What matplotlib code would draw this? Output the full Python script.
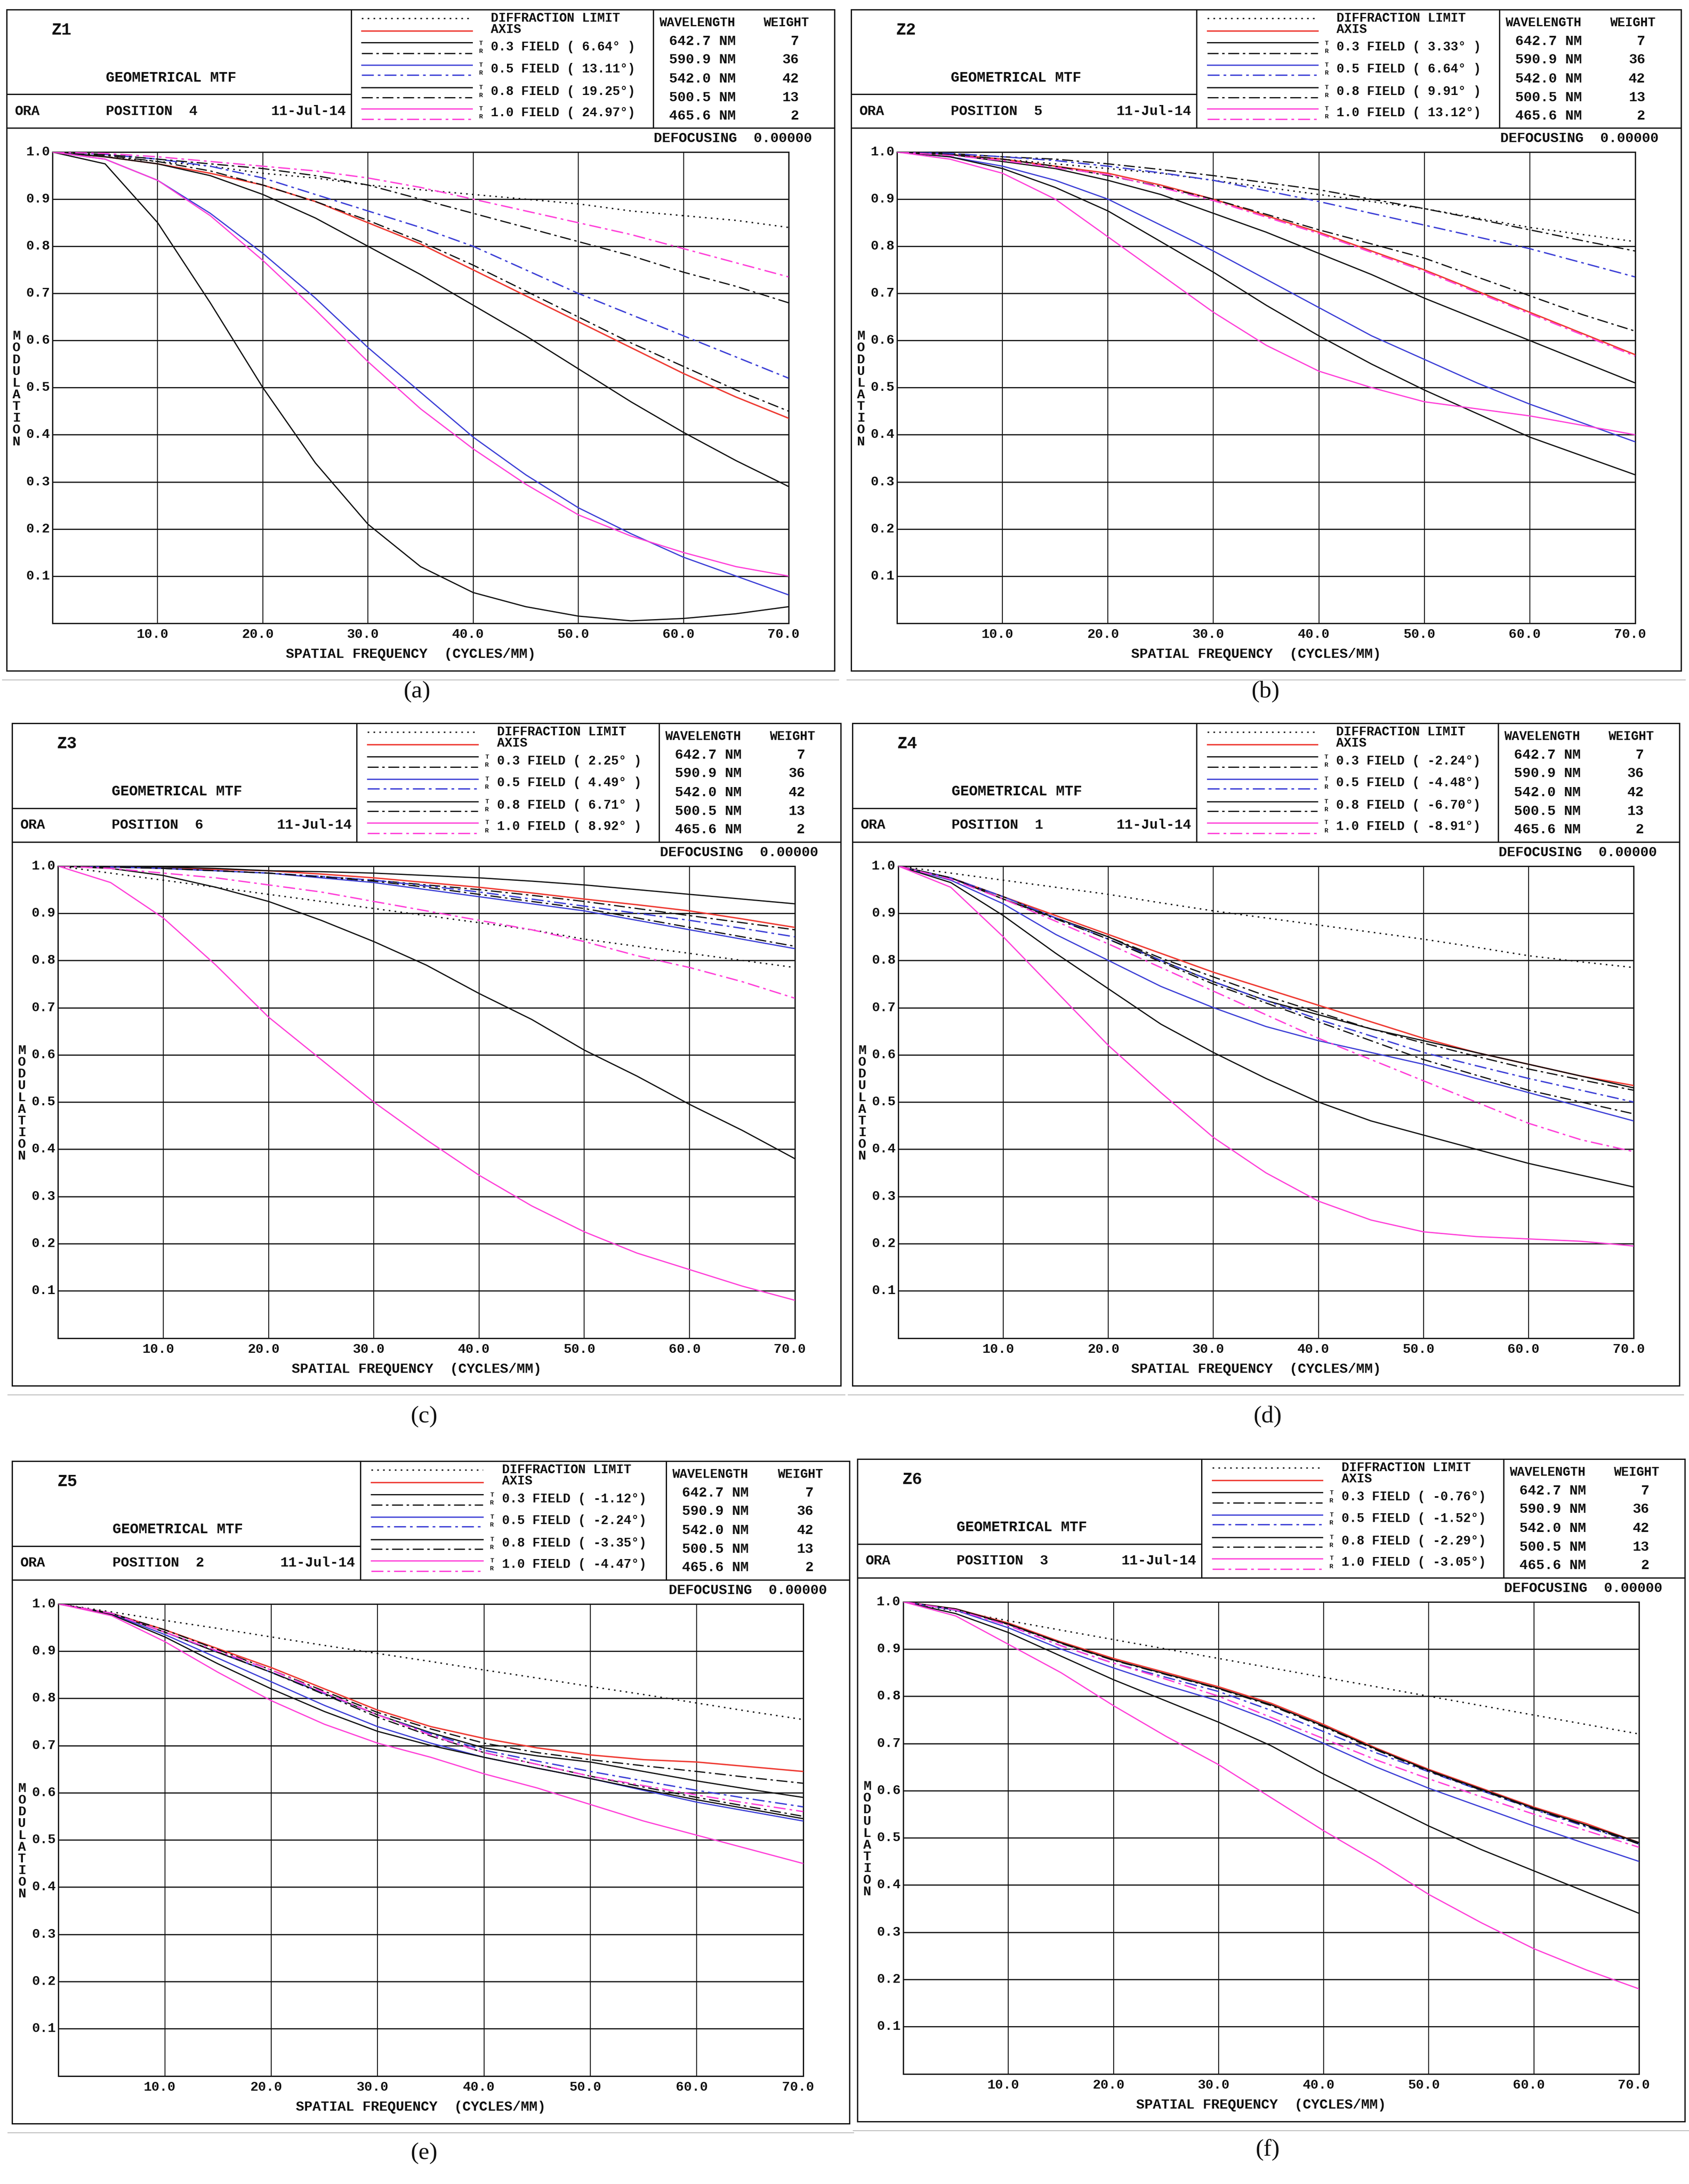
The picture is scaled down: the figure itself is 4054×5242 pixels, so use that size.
import matplotlib
matplotlib.use("Agg")
import matplotlib.pyplot as plt
from matplotlib.patches import Rectangle

W, H = 4055, 5242
FREQ = [0, 5, 10, 15, 20, 25, 30, 35, 40, 45, 50, 55, 60, 65, 70]
WAVELENGTHS = ["642.7 NM", "590.9 NM", "542.0 NM", "500.5 NM", "465.6 NM"]
WEIGHTS = ["7", "36", "42", "13", "2"]
FIELDS = ["0.3", "0.5", "0.8", "1.0"]
NAMES = ["Z1", "Z2", "Z3", "Z4", "Z5", "Z6"]
POSITIONS = ["4", "5", "6", "1", "2", "3"]
CAPTIONS = ["(a)", "(b)", "(c)", "(d)", "(e)", "(f)"]
ANGLES = [["6.64", "13.11", "19.25", "24.97"],
          ["3.33", "6.64", "9.91", "13.12"],
          ["2.25", "4.49", "6.71", "8.92"],
          ["-2.24", "-4.48", "-6.70", "-8.91"],
          ["-1.12", "-2.24", "-3.35", "-4.47"],
          ["-0.76", "-1.52", "-2.29", "-3.05"]]

# series order: diff, axis, T0.3, R0.3, T0.5, R0.5, T0.8, R0.8, T1.0, R1.0
A_DIFF = [1, .99, .98, .97, .955, .945, .93, .92, .91, .90, .89, .875, .865, .855, .84]
A_AXIS = [1, .99, .975, .955, .93, .895, .85, .805, .75, .695, .64, .585, .53, .48, .435]
A_T03 = [1, .99, .975, .95, .91, .86, .80, .74, .675, .61, .54, .47, .405, .345, .29]
A_R03 = [1, .993, .98, .96, .93, .895, .855, .81, .76, .705, .65, .595, .545, .495, .45]
A_T05 = [1, .985, .94, .87, .785, .69, .585, .49, .395, .315, .245, .19, .14, .10, .06]
A_R05 = [1, .995, .985, .97, .945, .91, .875, .84, .80, .75, .70, .655, .61, .565, .52]
A_T08 = [1, .975, .85, .68, .50, .34, .21, .12, .065, .035, .015, .005, .01, .02, .035]
A_R08 = [1, .995, .985, .975, .965, .95, .93, .90, .87, .84, .81, .78, .745, .715, .68]
A_T10 = [1, .985, .94, .865, .77, .665, .555, .455, .37, .295, .23, .185, .15, .12, .10]
A_R10 = [1, .997, .99, .98, .97, .96, .945, .925, .90, .875, .85, .825, .795, .765, .735]

B_DIFF = [1, .995, .985, .975, .965, .955, .94, .925, .91, .895, .88, .86, .84, .825, .81]
B_AXIS = [1, .995, .985, .97, .955, .93, .90, .865, .83, .79, .75, .705, .66, .615, .57]
B_T03 = [1, .995, .98, .965, .94, .91, .87, .83, .785, .74, .69, .645, .60, .555, .51]
B_R03 = [1, .997, .99, .985, .975, .963, .95, .935, .92, .90, .88, .858, .835, .812, .79]
B_T05 = [1, .99, .97, .94, .90, .845, .79, .73, .67, .61, .56, .51, .465, .425, .385]
B_R05 = [1, .997, .99, .982, .97, .956, .94, .918, .895, .87, .845, .82, .795, .765, .735]
B_T08 = [1, .99, .965, .925, .875, .81, .745, .675, .61, .55, .495, .445, .395, .355, .315]
B_R08 = [1, .995, .985, .97, .95, .927, .90, .868, .835, .805, .775, .735, .695, .655, .62]
B_T10 = [1, .985, .955, .90, .82, .74, .66, .59, .535, .50, .47, .455, .44, .42, .40]
B_R10 = [1, .993, .982, .967, .952, .925, .897, .862, .827, .787, .747, .702, .657, .612, .567]

C_DIFF = [1, .985, .97, .955, .94, .925, .91, .895, .88, .865, .845, .83, .815, .80, .785]
C_AXIS = [1, .998, .995, .993, .99, .983, .975, .965, .955, .943, .93, .918, .905, .888, .87]
C_T03 = [1, .999, .998, .995, .99, .988, .985, .98, .975, .968, .96, .95, .94, .93, .92]
C_R03 = [1, .998, .995, .99, .985, .978, .97, .96, .95, .938, .925, .91, .895, .88, .865]
C_T05 = [1, .998, .995, .99, .985, .975, .965, .95, .935, .92, .905, .885, .865, .845, .825]
C_R05 = [1, .998, .995, .99, .985, .978, .97, .958, .945, .93, .915, .90, .885, .868, .85]
C_T08 = [1, .995, .98, .955, .925, .885, .84, .79, .73, .675, .61, .555, .495, .44, .38]
C_R08 = [1, .998, .995, .99, .985, .977, .968, .955, .94, .925, .91, .89, .87, .85, .83]
C_T10 = [1, .965, .89, .79, .68, .59, .50, .42, .345, .28, .225, .18, .145, .11, .08]
C_R10 = [1, .995, .985, .975, .96, .945, .925, .905, .885, .865, .84, .81, .785, .755, .72]

D_DIFF = [1, .985, .97, .955, .94, .922, .905, .89, .875, .86, .845, .828, .81, .797, .785]
D_AXIS = [1, .975, .935, .895, .855, .815, .775, .74, .705, .67, .635, .605, .58, .555, .535]
D_T03 = [1, .975, .93, .89, .85, .80, .755, .715, .685, .655, .63, .605, .58, .555, .53]
D_R03 = [1, .975, .935, .89, .85, .805, .765, .725, .69, .655, .625, .597, .57, .547, .525]
D_T05 = [1, .97, .92, .855, .80, .745, .70, .66, .63, .605, .58, .55, .52, .49, .46]
D_R05 = [1, .975, .935, .89, .845, .80, .755, .715, .675, .64, .605, .577, .55, .525, .50]
D_T08 = [1, .965, .895, .815, .74, .665, .605, .55, .50, .46, .43, .40, .37, .345, .32]
D_R08 = [1, .975, .93, .888, .845, .797, .75, .71, .67, .63, .59, .557, .525, .50, .475]
D_T10 = [1, .955, .85, .735, .62, .52, .425, .35, .29, .25, .225, .215, .21, .205, .195]
D_R10 = [1, .972, .93, .883, .835, .785, .735, .685, .635, .59, .545, .50, .455, .42, .395]

E_DIFF = [1, .983, .965, .948, .93, .912, .895, .878, .86, .843, .825, .808, .79, .772, .755]
E_AXIS = [1, .98, .945, .905, .865, .82, .775, .74, .715, .695, .68, .67, .665, .655, .645]
E_T03 = [1, .98, .94, .897, .855, .81, .765, .727, .695, .678, .665, .645, .625, .607, .59]
E_R03 = [1, .98, .945, .903, .86, .815, .77, .735, .705, .685, .67, .657, .645, .632, .62]
E_T05 = [1, .978, .935, .885, .835, .785, .74, .705, .675, .652, .63, .605, .58, .56, .54]
E_R05 = [1, .98, .94, .898, .855, .81, .765, .725, .69, .667, .645, .625, .605, .587, .57]
E_T08 = [1, .977, .93, .873, .82, .772, .73, .70, .675, .652, .63, .607, .585, .565, .545]
E_R08 = [1, .98, .94, .898, .855, .808, .76, .72, .685, .66, .635, .612, .59, .57, .55]
E_T10 = [1, .975, .92, .855, .795, .745, .705, .675, .64, .61, .575, .54, .51, .48, .45]
E_R10 = [1, .98, .94, .90, .86, .812, .765, .722, .685, .66, .635, .615, .595, .577, .56]

F_DIFF = [1, .98, .96, .94, .92, .90, .88, .86, .84, .82, .80, .78, .76, .74, .72]
F_AXIS = [1, .985, .955, .915, .88, .85, .82, .785, .74, .69, .645, .605, .565, .53, .49]
F_T03 = [1, .985, .953, .913, .877, .847, .817, .782, .737, .688, .643, .603, .563, .527, .49]
F_R03 = [1, .984, .952, .912, .876, .846, .816, .78, .735, .687, .642, .602, .562, .526, .488]
F_T05 = [1, .982, .945, .90, .86, .823, .79, .748, .70, .65, .605, .565, .525, .487, .45]
F_R05 = [1, .983, .95, .907, .87, .84, .81, .77, .725, .68, .64, .60, .56, .523, .487]
F_T08 = [1, .975, .935, .885, .835, .79, .745, .695, .635, .58, .525, .475, .43, .385, .34]
F_R08 = [1, .984, .953, .913, .877, .846, .816, .781, .736, .686, .641, .601, .561, .525, .487]
F_T10 = [1, .97, .91, .85, .78, .715, .655, .585, .515, .45, .38, .32, .265, .22, .18]
F_R10 = [1, .983, .95, .907, .87, .836, .80, .755, .71, .665, .625, .587, .55, .515, .48]

PANEL_DATA = [
    [A_DIFF, A_AXIS, A_T03, A_R03, A_T05, A_R05, A_T08, A_R08, A_T10, A_R10],
    [B_DIFF, B_AXIS, B_T03, B_R03, B_T05, B_R05, B_T08, B_R08, B_T10, B_R10],
    [C_DIFF, C_AXIS, C_T03, C_R03, C_T05, C_R05, C_T08, C_R08, C_T10, C_R10],
    [D_DIFF, D_AXIS, D_T03, D_R03, D_T05, D_R05, D_T08, D_R08, D_T10, D_R10],
    [E_DIFF, E_AXIS, E_T03, E_R03, E_T05, E_R05, E_T08, E_R08, E_T10, E_R10],
    [F_DIFF, F_AXIS, F_T03, F_R03, F_T05, F_R05, F_T08, F_R08, F_T10, F_R10],
]

# layout (pixels)
BOXES = [(16, 23, 2003, 1610), (2043, 23, 4035, 1610),
         (29, 1736, 2018, 3326), (2046, 1736, 4031, 3326),
         (29, 3507, 2039, 5097), (2058, 3502, 4044, 5092)]
CAP_POS = [(1001, 1660), (3037, 1660), (1018, 3400), (3043, 3400), (1018, 5168), (3043, 5160)]

RED = "#ee3b33"
BLUE = "#3c3fd6"
MAG = "#ff3fd8"
BLK = "#111111"
DASHDOT = (0, (9, 3, 2, 3))
STYLES = [(BLK, (0, (1.2, 3.2)), 2.3), (RED, "-", 2.4),
          (BLK, "-", 2.1), (BLK, DASHDOT, 2.1),
          (BLUE, "-", 2.1), (BLUE, DASHDOT, 2.3),
          (BLK, "-", 2.1), (BLK, DASHDOT, 2.1),
          (MAG, "-", 2.1), (MAG, DASHDOT, 2.3)]

MONO = "Liberation Mono"
fig = plt.figure(figsize=(W / 100, H / 100), dpi=100)
bg = fig.add_axes([0, 0, 1, 1])
bg.set_xlim(0, W)
bg.set_ylim(H, 0)
bg.axis("off")


def T(x, y, s, size=24, ha="left", va="center", **kw):
    bg.text(x, y, s, fontsize=size, ha=ha, va=va, family=MONO, fontweight="bold", color=BLK, **kw)


for i, (x0, y0, x1, y1) in enumerate(BOXES):
    w, h = x1 - x0, y1 - y0
    X = lambda f: x0 + f * w
    Y = lambda f: y0 + f * h
    lw = 2.2
    bg.add_patch(Rectangle((x0, y0), w, h, fill=False, lw=lw, ec=BLK))
    bg.plot([x0, x1], [Y(0.179)] * 2, color=BLK, lw=lw)
    bg.plot([x0, X(0.416)], [Y(0.128)] * 2, color=BLK, lw=lw)
    bg.plot([X(0.416)] * 2, [y0, Y(0.179)], color=BLK, lw=lw)
    bg.plot([X(0.781)] * 2, [y0, Y(0.179)], color=BLK, lw=lw)
    bg.plot([x0 - 10, x1 + 10], [y1 + 22] * 2, color="#bbbbbb", lw=1.5)
    T(X(0.054), Y(0.031), NAMES[i], size=29)
    T(X(0.120), Y(0.103), "GEOMETRICAL MTF", size=25)
    T(X(0.010), Y(0.154), "ORA", size=24)
    T(X(0.120), Y(0.154), "POSITION  " + POSITIONS[i], size=24)
    T(X(0.410), Y(0.154), "11-Jul-14", size=24, ha="right")
    ly = [0.013, 0.032, 0.050, 0.066, 0.084, 0.099, 0.118, 0.133, 0.150, 0.166]
    for k, (c, ls, lwk) in enumerate(STYLES):
        bg.plot([X(0.429), X(0.562)], [Y(ly[k])] * 2, color=c, ls=ls, lw=lwk)
    T(X(0.585), Y(0.013), "DIFFRACTION LIMIT", size=22)
    T(X(0.585), Y(0.030), "AXIS", size=22)
    fy = [0.057, 0.090, 0.124, 0.156]
    for k in range(4):
        a = ANGLES[i][k]
        lab = f"{FIELDS[k]} FIELD ( {a}° )" if len(a) <= 4 else f"{FIELDS[k]} FIELD ( {a}°)"
        T(X(0.585), Y(fy[k]), lab, size=22)
        T(X(0.573), Y(fy[k] - 0.006), "T", size=11, ha="center")
        T(X(0.573), Y(fy[k] + 0.006), "R", size=11, ha="center")
    T(X(0.788), Y(0.020), "WAVELENGTH", size=22)
    T(X(0.914), Y(0.020), "WEIGHT", size=22)
    wy = [0.048, 0.076, 0.105, 0.133, 0.161]
    for k in range(5):
        T(X(0.800), Y(wy[k]), WAVELENGTHS[k], size=24)
        T(X(0.957), Y(wy[k]), WEIGHTS[k], size=24, ha="right")
    T(X(0.973), Y(0.195), "DEFOCUSING  0.00000", size=24, ha="right")
    axl, axr, axt, axb = X(0.0554), X(0.9446), Y(0.2155), Y(0.928)
    ax = fig.add_axes([axl / W, 1 - axb / H, (axr - axl) / W, (axb - axt) / H])
    ax.set_xlim(0, 70)
    ax.set_ylim(0, 1)
    for xv in range(10, 70, 10):
        ax.axvline(xv, color=BLK, lw=1.6, zorder=1)
    for yv in [0.1 * j for j in range(1, 10)]:
        ax.axhline(yv, color=BLK, lw=2.0, zorder=1)
    for k, (c, ls, lwk) in enumerate(STYLES):
        ax.plot(FREQ, PANEL_DATA[i][k], color=c, ls=ls, lw=lwk, zorder=3)
    ax.set_xticks([])
    ax.set_yticks([])
    for s in ax.spines.values():
        s.set_linewidth(2.2)
        s.set_color(BLK)
    for xv in range(10, 80, 10):
        T(axl + (axr - axl) * xv / 70 - 12, Y(0.945), f"{xv}.0", size=23, ha="center")
    for j in range(1, 11):
        T(axl - 6, axb - (axb - axt) * j / 10, f"{j / 10:.1f}", size=23, ha="right")
    T(X(0.488), Y(0.975), "SPATIAL FREQUENCY  (CYCLES/MM)", size=24, ha="center")
    T(X(0.012), Y(0.574), "\n".join("MODULATION"), size=23, ha="center", linespacing=0.92)
    bg.text(CAP_POS[i][0], CAP_POS[i][1], CAPTIONS[i], fontsize=42, ha="center", va="center",
            family="Liberation Serif", color=BLK)

fig.savefig("out.png", dpi=100)
